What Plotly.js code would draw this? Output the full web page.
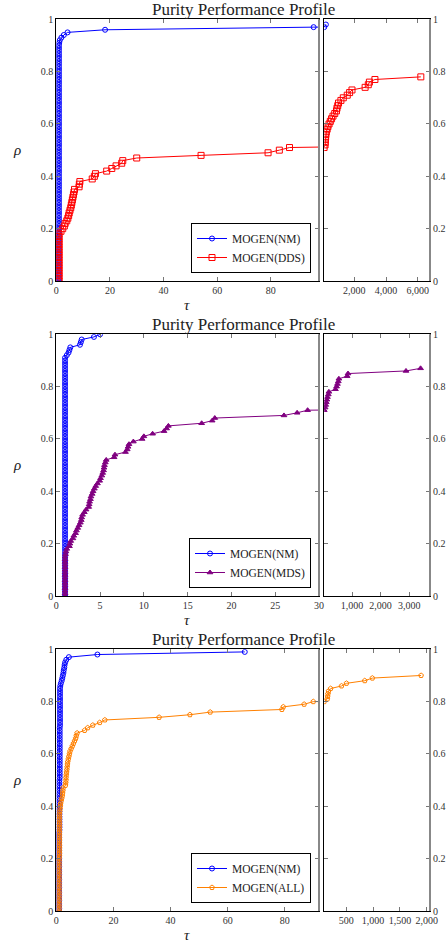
<!DOCTYPE html>
<html>
<head>
<meta charset="utf-8">
<script src="https://cdn.plot.ly/plotly-3.0.1.min.js"></script>
<style>html,body{margin:0;padding:0;background:#fff}#chart{width:448px;height:944px}</style>
</head>
<body>
<div id="chart"></div>
<script>
// ---------- Data ----------
const rhoTicks = [0, 0.2, 0.4, 0.6, 0.8, 1];
const rhoTickText = ["0", "0.2", "0.4", "0.6", "0.8", "1"];

// Row 1 : MOGEN(NM) vs MOGEN(DDS)
const nm1X = [1,1,1,1,1,1,1,1,1,1, 1,1,1,1,1,1,1,1,1,1, 1,1,1,1,1,1,1,1,1,1,
  1,1,1,1,1,1,1,1,1,1, 1,1,1,1,1,1,1,1,1,1, 1,1,1,1,1,1,1,1,1,1,
  1,1,1,1,1,1,1,1,1,1, 1,1,1,1,1,1,1,1,1,1, 1,1,1,1,1,1,1,1,1,1, 1,
  1.1, 1.3, 1.9, 2.8, 4.2, 18.2, 96, 200];
const nm1Y = [0,0.01,0.02,0.03,0.04,0.05,0.06,0.07,0.08,0.09, 0.1,0.11,0.12,0.13,0.14,0.15,0.16,0.17,0.18,0.19,
  0.2,0.21,0.22,0.23,0.24,0.25,0.26,0.27,0.28,0.29, 0.3,0.31,0.32,0.33,0.34,0.35,0.36,0.37,0.38,0.39,
  0.4,0.41,0.42,0.43,0.44,0.45,0.46,0.47,0.48,0.49, 0.5,0.51,0.52,0.53,0.54,0.55,0.56,0.57,0.58,0.59,
  0.6,0.61,0.62,0.63,0.64,0.65,0.66,0.67,0.68,0.69, 0.7,0.71,0.72,0.73,0.74,0.75,0.76,0.77,0.78,0.79,
  0.8,0.81,0.82,0.83,0.84,0.85,0.86,0.87,0.88,0.89, 0.9,
  0.91,0.92,0.93,0.94,0.95,0.96,0.97,0.98];
const dds1X = [1,1,1,1,1,1,1,1,1,1, 1,1,1,1,1,1,1,1,1,
  1.75, 2.4, 3.0, 3.3, 3.9, 4.3, 4.6, 4.8, 5.1, 5.4,
  5.6, 5.8, 6.0, 6.2, 6.4, 6.6, 6.8, 8.5, 8.6, 8.8,
  13.4, 14.2, 14.6, 18.8, 20.7, 22.3, 24.4, 24.8, 30, 54,
  79, 83.2, 87,
  150, 160, 170, 185, 200, 230, 280, 330, 400, 480,
  560, 650, 760, 870, 900, 950, 1000, 1150, 1300, 1550,
  1700, 1850, 2680, 2880, 2950, 3300, 6200];
const dds1Y = [0,0.01,0.02,0.03,0.04,0.05,0.06,0.07,0.08,0.09, 0.1,0.11,0.12,0.13,0.14,0.15,0.16,0.17,0.18,
  0.19,0.2,0.21,0.22,0.23,0.24,0.25,0.26,0.27,0.28,
  0.29,0.3,0.31,0.32,0.33,0.34,0.35,0.36,0.37,0.38,
  0.39,0.4,0.41,0.42,0.43,0.44,0.45,0.46,0.47,0.48,
  0.49,0.5,0.51,
  0.52,0.53,0.54,0.55,0.56,0.57,0.58,0.59,0.6,0.61,
  0.62,0.63,0.64,0.65,0.66,0.67,0.68,0.69,0.7,0.71,
  0.72,0.73,0.74,0.75,0.76,0.77,0.78];

// Row 2 : MOGEN(NM) vs MOGEN(MDS)
const nm2X = [1,1,1,1,1,1,1,1,1,1, 1,1,1,1,1,1,1,1,1,1, 1,1,1,1,1,1,1,1,1,1,
  1,1,1,1,1,1,1,1,1,1, 1,1,1,1,1,1,1,1,1,1, 1,1,1,1,1,1,1,1,1,1,
  1,1,1,1,1,1,1,1,1,1, 1,1,1,1,1,1,1,1,1,1, 1,1,1,1,1,1,1,1,1,1, 1,1,
  1.2, 1.4, 1.5, 1.6, 2.7, 2.8, 2.9, 4.3, 5.0];
const nm2Y = [0,0.01,0.02,0.03,0.04,0.05,0.06,0.07,0.08,0.09, 0.1,0.11,0.12,0.13,0.14,0.15,0.16,0.17,0.18,0.19,
  0.2,0.21,0.22,0.23,0.24,0.25,0.26,0.27,0.28,0.29, 0.3,0.31,0.32,0.33,0.34,0.35,0.36,0.37,0.38,0.39,
  0.4,0.41,0.42,0.43,0.44,0.45,0.46,0.47,0.48,0.49, 0.5,0.51,0.52,0.53,0.54,0.55,0.56,0.57,0.58,0.59,
  0.6,0.61,0.62,0.63,0.64,0.65,0.66,0.67,0.68,0.69, 0.7,0.71,0.72,0.73,0.74,0.75,0.76,0.77,0.78,0.79,
  0.8,0.81,0.82,0.83,0.84,0.85,0.86,0.87,0.88,0.89, 0.9,0.91,
  0.92,0.93,0.94,0.95,0.96,0.97,0.98,0.99,1.0];
const mds2X = [1,1,1,1,1,1,1,1,1,1, 1,1,1,1,1,1,
  1.05, 1.1, 1.2, 1.5, 1.55, 1.65, 1.9, 2.0, 2.2, 2.3,
  2.45, 2.6, 2.75, 2.85, 2.9, 3.0, 3.2, 3.4, 3.7, 3.75,
  3.8, 3.9, 3.96, 4.1, 4.2, 4.35, 4.5, 4.7, 4.95, 5.05,
  5.2, 5.3, 5.4, 5.45, 5.5, 5.6, 5.7, 6.6, 6.7, 7.9,
  8.1, 8.2, 8.3, 8.8, 9.8, 10.0, 11.0, 12.3, 12.6, 12.8,
  16.6, 17.8, 18.1, 26.0, 27.5, 28.7,
  60, 80, 100, 120, 140, 170, 190, 420, 460, 490,
  520, 540, 830, 860, 2890, 3400];
const mds2Y = [0,0.01,0.02,0.03,0.04,0.05,0.06,0.07,0.08,0.09, 0.1,0.11,0.12,0.13,0.14,0.15,
  0.16,0.17,0.18,0.19,0.2,0.21,0.22,0.23,0.24,0.25,
  0.26,0.27,0.28,0.29,0.3,0.31,0.32,0.33,0.34,0.35,
  0.36,0.37,0.38,0.39,0.4,0.41,0.42,0.43,0.44,0.45,
  0.46,0.47,0.48,0.49,0.5,0.51,0.52,0.53,0.54,0.55,
  0.56,0.57,0.58,0.59,0.6,0.61,0.62,0.63,0.64,0.65,
  0.66,0.67,0.68,0.69,0.7,0.71,
  0.72,0.73,0.74,0.75,0.76,0.77,0.78,0.79,0.8,0.81,
  0.82,0.83,0.84,0.85,0.86,0.87];

// Row 3 : MOGEN(NM) vs MOGEN(ALL)
const nm3X = [1,1,1,1,1,1,1,1,1,1, 1,1,1,1,1,1,1,1,1,1, 1,1,1,1,1,1,1,1,1,1, 1,
  1.1,1.1,1.1,1.1,1.1,1.1,1.1,1.1,1.1,1.1, 1.1,1.1,1.1,1.1,1.1,1.1,1.1,1.1,1.1,1.1,
  1.2,1.2,1.2,1.2,1.2,1.2,1.2,1.2,1.2,1.2, 1.2,1.2,1.2,1.2,1.2,1.2,1.2,1.2,1.2,1.2,
  1.3,1.3,1.3,1.3,1.3,1.3,1.3,1.3,1.3,1.3, 1.3,1.3,1.3,1.3,
  1.3, 1.4, 1.6, 1.9, 2.1, 2.3, 2.5, 2.6, 2.8, 2.9, 3.1, 3.5, 4.4, 14.4, 66];
const nm3Y = [0,0.01,0.02,0.03,0.04,0.05,0.06,0.07,0.08,0.09, 0.1,0.11,0.12,0.13,0.14,0.15,0.16,0.17,0.18,0.19,
  0.2,0.21,0.22,0.23,0.24,0.25,0.26,0.27,0.28,0.29, 0.3,
  0.31,0.32,0.33,0.34,0.35,0.36,0.37,0.38,0.39,0.4, 0.41,0.42,0.43,0.44,0.45,0.46,0.47,0.48,0.49,0.5,
  0.51,0.52,0.53,0.54,0.55,0.56,0.57,0.58,0.59,0.6, 0.61,0.62,0.63,0.64,0.65,0.66,0.67,0.68,0.69,0.7,
  0.71,0.72,0.73,0.74,0.75,0.76,0.77,0.78,0.79,0.8, 0.81,0.82,0.83,0.84,
  0.85,0.86,0.87,0.88,0.89,0.9,0.91,0.92,0.93,0.94,0.95,0.96,0.97,0.98,0.99];
const all3X = [1,1,1,1,1,1,1,1,1,1, 1,1,1,1,1,1,1,1,1,1, 1,
  1.1,1.1,1.1,1.1,1.1,1.1,1.1,1.1,1.1,1.1, 1.1,1.1,1.1,1.1,1.1,1.1,1.1,
  1.2, 1.3, 1.4, 1.5, 1.7, 1.9, 2.1, 2.2, 2.3, 2.4,
  3.2, 3.3, 3.4, 3.4, 3.5, 3.6, 3.7, 3.8, 3.9, 4.0,
  4.2, 4.4, 4.6, 4.8, 5.2, 5.6, 6.0, 6.4, 6.8, 7.0,
  7.3, 9.9, 11.0, 12.8, 15.2, 17.0, 36, 46.8, 53.9, 79,
  79.5, 86.8, 90,
  148, 155, 160, 170, 210, 413, 505, 845, 987, 1894];
const all3Y = [0,0.01,0.02,0.03,0.04,0.05,0.06,0.07,0.08,0.09, 0.1,0.11,0.12,0.13,0.14,0.15,0.16,0.17,0.18,0.19, 0.2,
  0.21,0.22,0.23,0.24,0.25,0.26,0.27,0.28,0.29,0.3, 0.31,0.32,0.33,0.34,0.35,0.36,0.37,
  0.38,0.39,0.4,0.41,0.42,0.43,0.44,0.45,0.46,0.47,
  0.48,0.49,0.5,0.51,0.52,0.53,0.54,0.55,0.56,0.57,
  0.58,0.59,0.6,0.61,0.62,0.63,0.64,0.65,0.66,0.67,
  0.68,0.69,0.7,0.71,0.72,0.73,0.74,0.75,0.76,0.77,
  0.78,0.79,0.8,
  0.81,0.82,0.83,0.84,0.85,0.86,0.87,0.88,0.89,0.9];

// axis tick settings
const leftRanges = [[0, 98], [0, 30], [0, 92]];
const leftTicks = [[0, 20, 40, 60, 80], [0, 5, 10, 15, 20, 25, 30], [0, 20, 40, 60, 80]];
const rightRanges = [[100, 6780], [30, 3730], [92, 2060]];
const rightTicks = [[2000, 4000, 6000], [1000, 2000, 3000], [500, 1000, 1500, 2000]];

// ---------- Layout geometry ----------
const W = 448, H = 944;
const serif = "Liberation Serif, DejaVu Serif, serif";
const xL = [56.3 / W, 319 / W], xR = [324.3 / W, 430 / W];
const rowsPx = [[19.3, 281], [334.3, 596], [649.3, 911]];
const legendBottoms = [273, 588, 903];

const BLUE = "#0000ff", RED = "#ff0000", VIOLET = "#800080", ORANGE = "#ff8000";

const series = [
  [{name: "MOGEN(NM)", x: nm1X, y: nm1Y, color: BLUE, sym: "circle-open", size: 5},
   {name: "MOGEN(DDS)", x: dds1X, y: dds1Y, color: RED, sym: "square-open", size: 6}],
  [{name: "MOGEN(NM)", x: nm2X, y: nm2Y, color: BLUE, sym: "circle-open", size: 5},
   {name: "MOGEN(MDS)", x: mds2X, y: mds2Y, color: VIOLET, sym: "triangle-up", size: 5}],
  [{name: "MOGEN(NM)", x: nm3X, y: nm3Y, color: BLUE, sym: "circle-open", size: 5},
   {name: "MOGEN(ALL)", x: all3X, y: all3Y, color: ORANGE, sym: "pentagon-open", size: 5}]
];

const data = [];
const layout = {
  width: W, height: H,
  margin: {l: 0, r: 0, t: 0, b: 0},
  paper_bgcolor: "#fff", plot_bgcolor: "#fff",
  font: {family: serif, size: 10, color: "#333"},
  annotations: [], shapes: []
};

function axisBase() {
  return {
    showline: true, linecolor: "#000", linewidth: 1, mirror: "allticks",
    ticks: "inside", ticklen: 4, tickcolor: "#777", tickwidth: 1,
    showgrid: false, zeroline: false,
    tickfont: {family: serif, size: 10, color: "#333"}
  };
}

for (let r = 0; r < 3; r++) {
  const li = 2 * r + 1, ri = 2 * r + 2;
  const top = rowsPx[r][0], bot = rowsPx[r][1];
  const yd = [1 - bot / H, 1 - top / H];
  const lk = li === 1 ? "" : String(li), rk = String(ri);

  layout["xaxis" + lk] = Object.assign(axisBase(), {
    domain: xL, anchor: "y" + lk, range: leftRanges[r], tickvals: leftTicks[r]
  });
  layout["yaxis" + lk] = Object.assign(axisBase(), {
    domain: yd, anchor: "x" + lk, range: [0, 1], tickvals: rhoTicks, ticktext: rhoTickText
  });
  layout["xaxis" + rk] = Object.assign(axisBase(), {
    domain: xR, anchor: "y" + rk, range: rightRanges[r], tickvals: rightTicks[r], tickformat: ",d"
  });
  layout["yaxis" + rk] = Object.assign(axisBase(), {
    domain: yd, anchor: "x" + rk, range: [0, 1], tickvals: rhoTicks, ticktext: rhoTickText, side: "right"
  });

  const legName = r === 0 ? "legend" : "legend" + (r + 1);
  layout[legName] = {
    x: 311 / W, y: 1 - legendBottoms[r] / H, xanchor: "right", yanchor: "bottom",
    bgcolor: "#fff", bordercolor: "#000", borderwidth: 1,
    font: {family: serif, size: 11.5, color: "#222"},
    tracegroupgap: 0, itemwidth: 30
  };

  series[r].forEach(s => {
    const style = {
      type: "scatter", mode: "lines+markers", name: s.name,
      line: {color: s.color, width: 1},
      marker: {symbol: s.sym, size: s.size, color: s.color, line: {color: s.color, width: 1}}
    };
    // left panel: whole series (clipped by the axes)
    data.push(Object.assign({}, style, {x: s.x, y: s.y,
      xaxis: "x" + lk, yaxis: "y" + lk, legend: legName, showlegend: true}));
    // right panel: the part of the series from the last point before the panel's range onwards
    const lo = rightRanges[r][0];
    let start = s.x.findIndex(v => v >= lo);
    if (start === -1) start = s.x.length;
    start = Math.max(0, start - 1);
    const xs = s.x.slice(start), ys = s.y.slice(start);
    if (xs.length > 1) {
      data.push(Object.assign({}, style, {x: xs, y: ys,
        xaxis: "x" + rk, yaxis: "y" + rk, showlegend: false}));
    }
  });

  // gray right-hand borders
  [319, 430].forEach(px => {
    layout.shapes.push({type: "line", xref: "paper", yref: "paper",
      x0: px / W, x1: px / W, y0: yd[0], y1: yd[1], line: {color: "#888", width: 2}});
  });

  // title, rho and tau labels
  layout.annotations.push({
    text: "Purity Performance Profile", xref: "paper", yref: "paper",
    x: 243.5 / W, y: 1 - (top - 10) / H, xanchor: "center", yanchor: "middle",
    showarrow: false, font: {family: serif, size: 17, color: "#222"}
  });
  layout.annotations.push({
    text: "<i>ρ</i>", xref: "paper", yref: "paper",
    x: 17 / W, y: 1 - ((top + bot) / 2) / H, xanchor: "center", yanchor: "middle",
    showarrow: false, font: {family: serif, size: 15, color: "#222"}
  });
  layout.annotations.push({
    text: "<i>τ</i>", xref: "paper", yref: "paper",
    x: 187 / W, y: 1 - (bot + 24) / H, xanchor: "center", yanchor: "middle",
    showarrow: false, font: {family: serif, size: 15, color: "#222"}
  });
}

Plotly.newPlot("chart", data, layout, {displayModeBar: false, staticPlot: true});
</script>
</body>
</html>
